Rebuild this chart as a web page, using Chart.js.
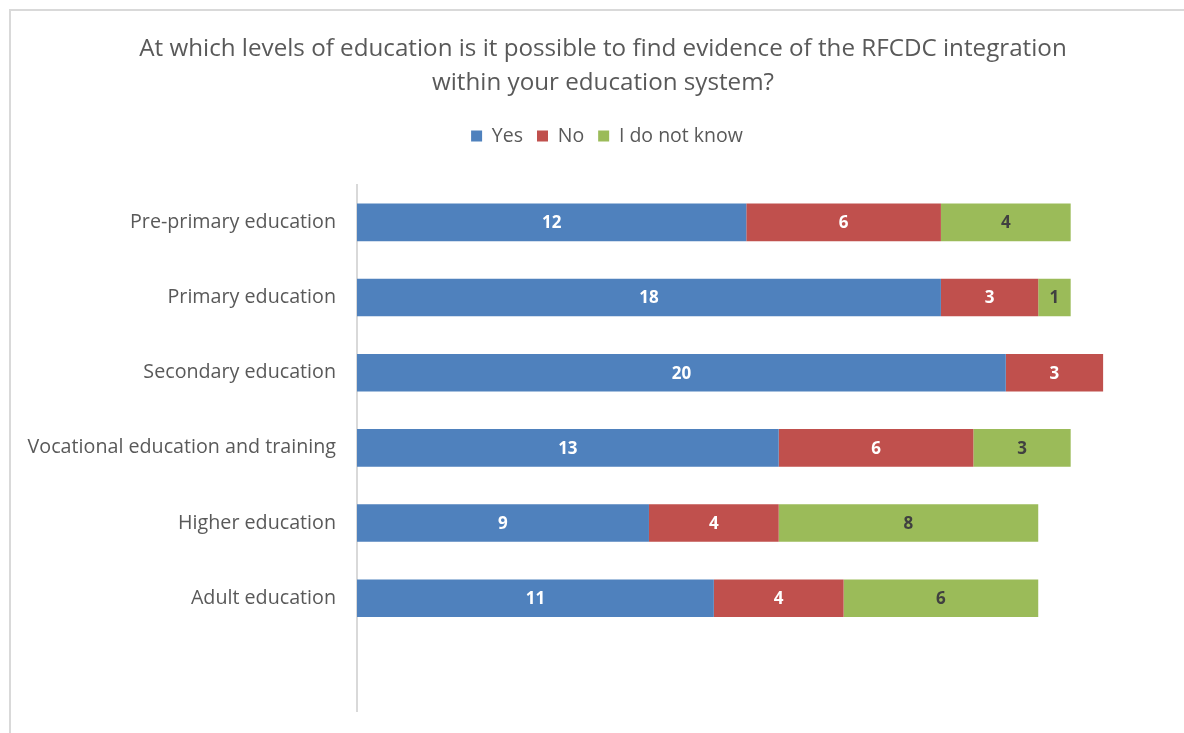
<!DOCTYPE html>
<html>
<head>
<meta charset="utf-8">
<script src="https://cdn.jsdelivr.net/npm/chart.js@4.4.1/dist/chart.umd.min.js"></script>
<style>
  html, body { margin: 0; padding: 0; background: #fff; overflow: hidden; }
  #frame { position: absolute; left: 9px; top: 9px; width: 1200px; height: 760px; border: 2px solid #d9d9d9; box-sizing: border-box; }
  #levels { position: absolute; left: 0; top: 0; }
</style>
</head>
<body>
<div id="frame"></div>
<canvas id="levels" width="1184" height="733"></canvas>
<script>
// survey answers per education level (last row left empty, as in the sheet)
var levels = ['Pre-primary education', 'Primary education', 'Secondary education',
  'Vocational education and training', 'Higher education', 'Adult education', ''];
var yes_counts = [12, 18, 20, 13, 9, 11, null];
var no_counts = [6, 3, 3, 6, 4, 4, null];
var dont_know_counts = [4, 1, null, 3, 8, 6, null];

var series_names = ['Yes', 'No', 'I do not know'];
var series_colors = ['#4f81bd', '#c0504d', '#9bbb59'];
var label_colors = ['#ffffff', '#ffffff', '#404040'];

var font_family = "'Open Sans', 'Noto Sans', sans-serif";

// writes each segment's value in the middle of the bar
var bar_values = {
  id: 'bar_values',
  afterDatasetsDraw: function(chart){
    var ctx = chart.ctx;
    ctx.save();
    ctx.font = 'bold 17px ' + font_family;
    ctx.textAlign = 'center';
    ctx.textBaseline = 'middle';
    chart.data.datasets.forEach(function(ds, i){
      var meta = chart.getDatasetMeta(i);
      meta.data.forEach(function(bar, j){
        var v = ds.data[j];
        if(v === null || v === undefined) return;
        var p = bar.getProps(['x', 'y', 'base'], true);
        ctx.fillStyle = label_colors[i];
        ctx.fillText(v, (p.x + p.base) / 2, p.y + 1);
      });
    });
    ctx.restore();
  }
};

// leaves some room between the legend and the bars
var legend_gap = {
  id: 'legend_gap',
  beforeLayout: function(chart){
    var legend = chart.legend;
    if(!legend || legend._gap_patched) return;
    var fit = legend.fit;
    legend.fit = function(){
      fit.call(this);
      this.height += 29;
    };
    legend._gap_patched = true;
  }
};

// title and legend sit a bit right of the canvas middle
var header_shift = {
  id: 'header_shift',
  afterLayout: function(chart){
    if(chart.titleBlock){ chart.titleBlock.left += 14; chart.titleBlock.right += 14; }
    if(chart.legend){ chart.legend.left += 18; chart.legend.right += 18; }
  }
};

var ctx = document.getElementById('levels');
new Chart(ctx, {
  type: 'bar',
  data: {
    labels: levels,
    datasets: [
      { label: series_names[0], data: yes_counts, backgroundColor: series_colors[0] },
      { label: series_names[1], data: no_counts, backgroundColor: series_colors[1] },
      { label: series_names[2], data: dont_know_counts, backgroundColor: series_colors[2] }
    ]
  },
  options: {
    indexAxis: 'y',
    responsive: false,
    animation: false,
    layout: { padding: { left: 10, right: 16, top: 12, bottom: 22 } },
    datasets: {
      bar: { categoryPercentage: 0.5, barPercentage: 1.0, borderWidth: 0 }
    },
    scales: {
      x: {
        stacked: true,
        display: false,
        min: 0,
        max: 25
      },
      y: {
        stacked: true,
        grid: { display: false, drawTicks: false },
        border: { display: true, color: '#d9d9d9', width: 2 },
        ticks: { color: '#595959', padding: 21, font: { family: font_family, size: 19.7 } },
        afterFit: function(scale){
          // fixed axis column, and no extra room above/below the rows
          scale.width = 347;
          scale.paddingTop = 0;
          scale.paddingBottom = 0;
        }
      }
    },
    plugins: {
      title: {
        display: true,
        text: ['At which levels of education is it possible to find evidence of the RFCDC integration',
               'within your education system?'],
        color: '#595959',
        font: { family: font_family, size: 24.2, weight: 'normal', lineHeight: 1.41 },
        padding: { top: 20, bottom: 12 }
      },
      legend: {
        position: 'top',
        labels: {
          color: '#595959',
          boxWidth: 11,
          boxHeight: 11,
          padding: 14,
          font: { family: font_family, size: 19.5 }
        }
      },
      tooltip: { enabled: false }
    }
  },
  plugins: [bar_values, legend_gap, header_shift]
});
</script>
</body>
</html>
